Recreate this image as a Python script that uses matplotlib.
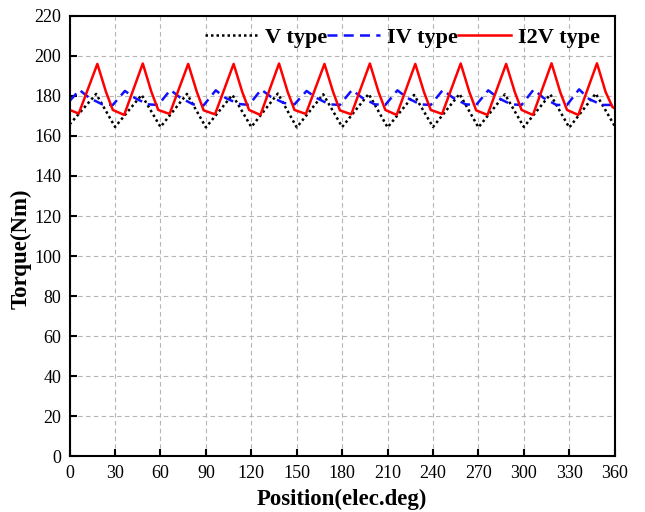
import matplotlib
matplotlib.use("Agg")
import matplotlib.pyplot as plt

# ---- data ----
v_x = [0, 17.5, 30, 47.5, 60, 77.5, 90, 107.5, 120, 137.5, 150, 167.5, 180,
       197.5, 210, 227.5, 240, 257.5, 270, 287.5, 300, 317.5, 330, 347.5, 360]
v_y = [165.8, 181.0, 164.5, 180.5, 164.5, 181.0, 164.3, 180.5, 164.5, 181.2, 164.3,
       180.8, 164.5, 181.0, 164.3, 180.5, 164.5, 181.0, 164.3, 180.8, 164.5, 180.8,
       164.2, 181.2, 165.0]

iv_x = [0, 6.5, 13, 21.5, 28.5, 36.5, 43, 51.5, 58.5, 66.5, 73, 81.5, 88.5,
        96.5, 103, 111.5, 118.5, 126.5, 133, 141.5, 148.5, 156.5, 163, 171.5, 178.5,
        186.5, 193, 201.5, 208.5, 216.5, 223, 231.5, 238.5, 246.5, 253, 261.5, 268.5,
        276.5, 283, 291.5, 298.5, 306.5, 313, 321.5, 328.5, 336.5, 343, 351.5, 358.5, 360]
iv_y = [177.5, 183.0, 179.0, 175.8, 175.5, 182.5, 179.0, 175.8, 175.5, 183.0, 179.2,
        175.8, 175.3, 182.8, 179.0, 176.0, 175.5, 183.2, 179.5, 176.5, 175.8, 182.5,
        179.0, 175.8, 175.5, 183.0, 179.2, 175.8, 175.5, 182.8, 179.0, 175.8, 175.5,
        183.0, 179.2, 175.8, 175.5, 182.8, 179.0, 175.8, 175.5, 183.2, 179.0, 175.5,
        175.5, 183.3, 178.5, 175.5, 175.5, 175.8]

i2v_x = [0, 6, 18.3, 24, 28.5, 36, 48.3, 54, 58.5, 66, 78.3, 84, 88.5,
         96, 108.3, 114, 118.5, 126, 138.3, 144, 148.5, 156, 168.3, 174, 178.5,
         186, 198.3, 204, 208.5, 216, 228.3, 234, 238.5, 246, 258.3, 264, 268.5,
         276, 288.3, 294, 298.5, 306, 318.3, 324, 328.5, 336, 348.3, 354, 358.5, 360]
i2v_y = [173.0, 171.2, 196.0, 182.0, 173.0, 170.5, 196.2, 182.0, 173.0, 171.0, 196.0,
         182.0, 172.8, 170.8, 196.0, 182.0, 173.0, 170.5, 196.2, 182.0, 173.0, 171.0,
         196.0, 182.0, 172.8, 170.8, 196.2, 182.0, 173.0, 170.5, 196.0, 182.0, 173.0,
         171.0, 196.2, 182.0, 172.8, 170.5, 196.0, 182.0, 173.0, 170.5, 196.3, 182.0,
         173.0, 170.5, 196.3, 182.0, 174.5, 173.8]

series_labels = ["V type", "IV type", "I2V type"]
x_ticks = list(range(0, 361, 30))
y_ticks = list(range(0, 221, 20))

# ---- style ----
plt.rcParams['font.family'] = ['Liberation Serif', 'DejaVu Serif']

fig = plt.figure(figsize=(6.45, 5.12), dpi=100)
ax = fig.add_axes([0.108, 0.109, 0.845, 0.860])

ax.plot(v_x, v_y, color='black', linestyle=(0, (1, 1.2)), linewidth=1.8,
        label=series_labels[0])
ax.plot(iv_x, iv_y, color='#1010ff', linestyle=(0, (4, 2.5)), linewidth=1.8,
        label=series_labels[1])
ax.plot(i2v_x, i2v_y, color='#ff0000', linestyle='-', linewidth=1.8,
        label=series_labels[2])

ax.set_xlim(0, 360)
ax.set_ylim(0, 220)
ax.set_xticks(x_ticks)
ax.set_yticks(y_ticks)
ax.tick_params(direction='in', length=5, width=1.5, labelsize=13, pad=6)
ax.grid(True, color='#b5b5b5', linestyle=(0, (4, 3)), linewidth=0.8)
for s in ax.spines.values():
    s.set_linewidth(1.5)

ax.set_xlabel("Position(elec.deg)", fontsize=16.5, fontweight='bold', labelpad=5.5)
ax.set_ylabel("Torque(Nm)", fontsize=16.5, fontweight='bold')
ax.yaxis.set_label_coords(-0.069, 0.47)

leg = ax.legend(loc='upper right', bbox_to_anchor=(1.005, 1.015), ncol=3, frameon=False,
                prop={'size': 16, 'weight': 'bold'}, handlelength=2.4,
                handletextpad=0.3, columnspacing=0.0, borderpad=0.3)

fig.savefig("out.png", dpi=100)
